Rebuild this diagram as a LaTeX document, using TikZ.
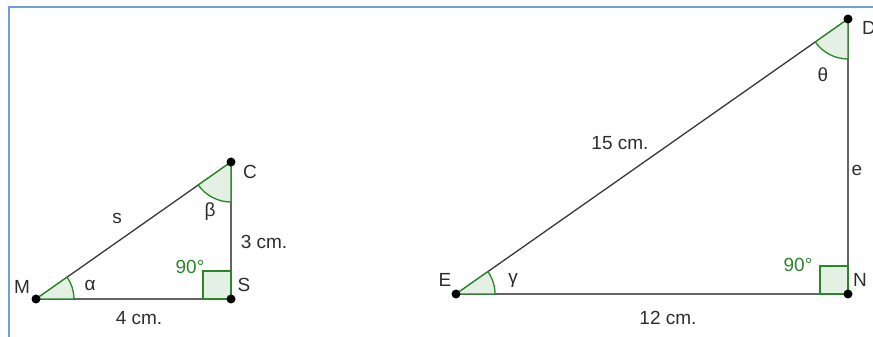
\documentclass[tikz,border=0pt]{standalone}
\usepackage{fontspec}
\setmainfont{Liberation Sans}
\usetikzlibrary{calc}
\definecolor{frameblue}{RGB}{110,160,222}
\definecolor{seggray}{RGB}{100,100,100}
\definecolor{hypgray}{RGB}{55,55,55}
\definecolor{angG}{RGB}{40,135,40}
\definecolor{angF}{RGB}{228,240,228}
\definecolor{txt}{RGB}{45,45,45}
\begin{document}
\begin{tikzpicture}[x=1pt,y=1pt,
  seg/.style={draw=seggray,line width=1.4pt},
  hyp/.style={draw=hypgray,line width=1.3pt},
  sector/.style={draw=angG,fill=angF,line width=1.3pt},
  rightmark/.style={draw=angG,fill=angF,line width=1.3pt},
  lbl/.style={text=txt,inner sep=0pt,font=\fontsize{19}{22}\selectfont},
  glbl/.style={text=angG,inner sep=0pt,font=\fontsize{19}{22}\selectfont},
  dot/.style={circle,fill=black,inner sep=0pt,minimum size=9pt}]
\useasboundingbox (0,0) rectangle (873,337);
% frame
\coordinate (F1) at (8.7,0);
\coordinate (F2) at (8.7,330.3);
\coordinate (F3) at (880,330.3);
\draw[frameblue,line width=2.2pt] (F1) -- (F2) -- (F3);
% points
\coordinate (M) at (36,38);
\coordinate (S) at (231,38);
\coordinate (C) at (231,175);
\coordinate (E) at (456,43);
\coordinate (N) at (848,43);
\coordinate (D) at (848,318);
% segments
\draw[seg] (M) -- (S);
\draw[seg] (S) -- (C);
\draw[hyp] (M) -- (C);
\draw[seg] (E) -- (N);
\draw[seg] (N) -- (D);
\draw[hyp] (E) -- (D);
% angle sectors
\draw[sector] (M) -- ($(M)+(38,0)$) arc[start angle=0,end angle=35.09,radius=38pt] -- cycle;
\draw[sector] (C) -- ($(C)+(0,-40)$) arc[start angle=270,end angle=215.09,radius=40pt] -- cycle;
\draw[sector] (E) -- ($(E)+(39,0)$) arc[start angle=0,end angle=35.05,radius=39pt] -- cycle;
\draw[sector] (D) -- ($(D)+(0,-40)$) arc[start angle=270,end angle=215.05,radius=40pt] -- cycle;
% right angles
\draw[rightmark] ($(S)+(-28,0)$) rectangle ($(S)+(0,28)$);
\draw[rightmark] ($(N)+(-28,0)$) rectangle ($(N)+(0,28)$);
% dots
\node[dot] (pM) at (M) {};
\node[dot] (pS) at (S) {};
\node[dot] (pC) at (C) {};
\node[dot] (pE) at (E) {};
\node[dot] (pN) at (N) {};
\node[dot] (pD) at (D) {};
% labels left triangle
\node[lbl] (lM) at (22,50) {M};
\node[lbl] (la) at (90,52) {α};
\node[lbl] (ls) at (117,119) {s};
\node[lbl] (lb) at (210,125) {β};
\node[lbl] (lC) at (250,165) {C};
\node[lbl] (l3) at (264,95) {3 cm.};
\node[glbl] (l90a) at (190,70) {90°};
\node[lbl] (lS) at (244,52) {S};
\node[lbl] (l4) at (139,19) {4 cm.};
% labels right triangle
\node[lbl] (lE) at (445,57) {E};
\node[lbl] (lg) at (513,57) {γ};
\node[glbl] (l90b) at (798,72) {90°};
\node[lbl] (lN) at (860,57) {N};
\node[lbl] (l12) at (668,19) {12 cm.};
\node[lbl] (lt) at (823,262) {θ};
\node[lbl] (lD) at (869,309) {D};
\node[lbl] (l15) at (620,194) {15 cm.};
\node[lbl] (le) at (857,167) {e};
\end{tikzpicture}
\end{document}
